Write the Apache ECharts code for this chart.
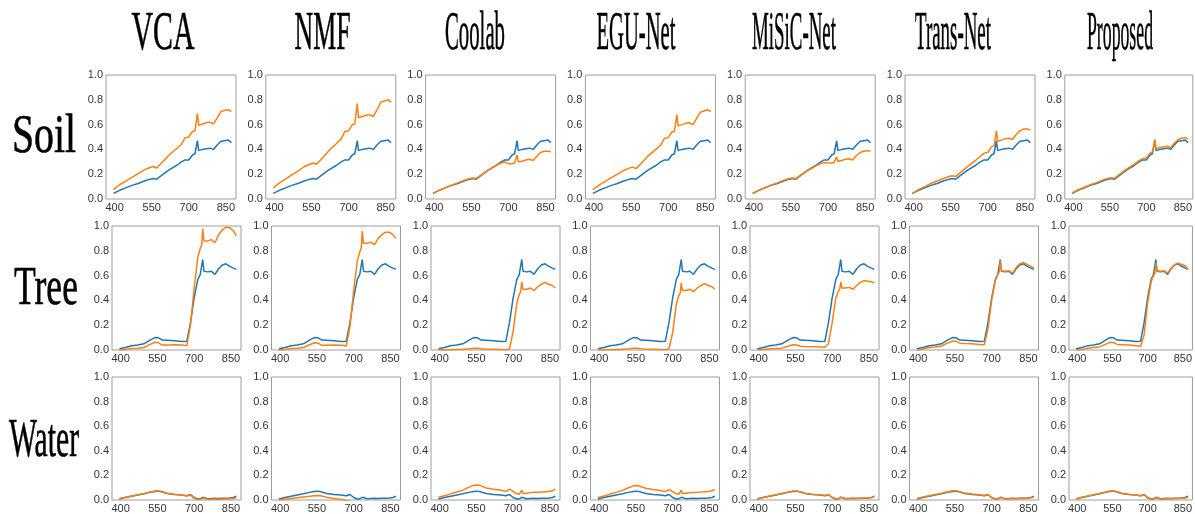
<!DOCTYPE html>
<html>
<head>
<meta charset="utf-8">
<script src="https://cdn.jsdelivr.net/npm/echarts@6/dist/echarts.min.js"></script>
<style>
html,body{margin:0;padding:0;background:#fff;}
#chart{width:1195px;height:514px;}
</style>
</head>
<body>
<div id="chart"></div>
<script>
// ---------- data ----------
const wavelengths = [395,420,445,470,495,520,540,555,570,590,620,650,670,685,700,715,725,731,735,740,755,770,785,800,815,830,845,860,872];
const methods = ['VCA','NMF','Coolab','EGU-Net','MiSiC-Net','Trans-Net','Proposed'];
const materials = ['Soil','Tree','Water'];
const xTickValues = [400,550,700,850];

const soilRef      = [0.045,0.07,0.09,0.11,0.125,0.145,0.158,0.165,0.16,0.19,0.235,0.27,0.30,0.315,0.315,0.355,0.365,0.37,0.47,0.39,0.40,0.405,0.41,0.40,0.435,0.465,0.47,0.475,0.455];
const soilVCA      = [0.075,0.115,0.145,0.175,0.205,0.235,0.252,0.262,0.25,0.29,0.355,0.405,0.44,0.495,0.50,0.545,0.55,0.555,0.69,0.595,0.605,0.615,0.62,0.605,0.655,0.705,0.715,0.72,0.705];
const soilNMF      = [0.09,0.13,0.16,0.195,0.225,0.26,0.278,0.29,0.28,0.32,0.39,0.445,0.485,0.545,0.55,0.60,0.605,0.61,0.77,0.655,0.665,0.675,0.68,0.665,0.72,0.78,0.79,0.80,0.78];
const soilCoolab   = [0.045,0.07,0.092,0.112,0.13,0.15,0.163,0.17,0.165,0.195,0.235,0.27,0.29,0.30,0.285,0.285,0.29,0.29,0.355,0.30,0.305,0.315,0.32,0.31,0.345,0.375,0.385,0.385,0.38];
const soilEGU      = [0.075,0.112,0.142,0.172,0.2,0.23,0.247,0.257,0.245,0.285,0.35,0.4,0.435,0.49,0.495,0.54,0.545,0.55,0.68,0.59,0.6,0.61,0.615,0.6,0.65,0.7,0.71,0.72,0.705];
const soilMiSiC    = [0.045,0.07,0.092,0.112,0.13,0.15,0.163,0.17,0.165,0.195,0.232,0.265,0.285,0.295,0.29,0.29,0.295,0.3,0.34,0.305,0.31,0.32,0.325,0.315,0.35,0.375,0.385,0.39,0.385];
const soilTrans    = [0.045,0.075,0.1,0.125,0.145,0.165,0.18,0.188,0.182,0.215,0.265,0.31,0.345,0.37,0.375,0.42,0.43,0.44,0.55,0.465,0.475,0.485,0.49,0.48,0.52,0.55,0.565,0.565,0.555];
const soilProposed = [0.05,0.075,0.095,0.115,0.132,0.152,0.165,0.172,0.168,0.198,0.243,0.28,0.31,0.325,0.33,0.37,0.38,0.385,0.48,0.405,0.415,0.42,0.425,0.415,0.45,0.48,0.49,0.495,0.485];

const treeRef      = [0.01,0.02,0.035,0.04,0.05,0.08,0.10,0.098,0.08,0.078,0.075,0.068,0.07,0.22,0.42,0.57,0.61,0.62,0.73,0.635,0.63,0.635,0.61,0.655,0.685,0.695,0.675,0.66,0.65];
const treeVCA      = [0.0,0.005,0.012,0.015,0.02,0.045,0.062,0.058,0.04,0.04,0.043,0.04,0.035,0.2,0.5,0.75,0.82,0.85,0.98,0.88,0.88,0.89,0.865,0.93,0.97,0.99,0.985,0.96,0.92];
const treeNMF      = [0.0,0.005,0.012,0.015,0.02,0.042,0.058,0.055,0.038,0.038,0.04,0.038,0.033,0.19,0.48,0.72,0.79,0.82,0.96,0.86,0.86,0.87,0.85,0.9,0.93,0.95,0.95,0.93,0.9];
const treeCoolab   = [0.0,0.0,0.002,0.004,0.006,0.01,0.015,0.015,0.01,0.008,0.006,0.004,0.003,0.01,0.15,0.38,0.45,0.47,0.55,0.49,0.49,0.5,0.48,0.51,0.53,0.545,0.53,0.52,0.5];
const treeEGU      = [0.0,0.0,0.002,0.004,0.006,0.01,0.014,0.014,0.01,0.008,0.006,0.004,0.003,0.01,0.14,0.37,0.44,0.46,0.54,0.48,0.48,0.49,0.47,0.5,0.52,0.535,0.52,0.51,0.49];
const treeMiSiC    = [0.0,0.005,0.01,0.012,0.015,0.03,0.042,0.04,0.03,0.028,0.027,0.025,0.022,0.05,0.22,0.42,0.47,0.49,0.55,0.5,0.5,0.505,0.49,0.52,0.545,0.56,0.555,0.55,0.54];
const treeTrans    = [0.0,0.008,0.02,0.025,0.032,0.055,0.072,0.07,0.055,0.052,0.05,0.045,0.042,0.17,0.4,0.56,0.61,0.63,0.72,0.64,0.635,0.64,0.62,0.665,0.695,0.705,0.69,0.675,0.66];
const treeProposed = [0.0,0.005,0.015,0.02,0.025,0.045,0.062,0.06,0.045,0.043,0.04,0.035,0.03,0.12,0.38,0.55,0.6,0.62,0.7,0.64,0.635,0.64,0.62,0.66,0.69,0.7,0.69,0.68,0.65];

const waterRef      = [0.008,0.02,0.03,0.04,0.05,0.062,0.07,0.072,0.065,0.053,0.045,0.04,0.035,0.045,0.02,0.008,0.01,0.012,0.022,0.01,0.01,0.012,0.014,0.012,0.014,0.015,0.017,0.02,0.03];
const waterVCA      = [0.012,0.022,0.032,0.042,0.052,0.065,0.073,0.075,0.068,0.055,0.047,0.04,0.033,0.04,0.015,0.004,0.005,0.006,0.016,0.005,0.006,0.007,0.008,0.007,0.008,0.009,0.01,0.012,0.02];
const waterNMF      = [0.0,0.006,0.012,0.018,0.024,0.03,0.035,0.036,0.032,0.022,0.012,0.004,-0.004,-0.012,-0.03,-0.04,-0.04,-0.04,-0.035,-0.04,-0.04,-0.04,-0.04,-0.04,-0.04,-0.04,-0.04,-0.04,-0.04];
const waterCoolab   = [0.022,0.035,0.05,0.065,0.08,0.105,0.12,0.122,0.115,0.098,0.088,0.08,0.07,0.088,0.07,0.05,0.046,0.05,0.08,0.052,0.055,0.06,0.062,0.063,0.066,0.068,0.07,0.075,0.09];
const waterEGU      = [0.02,0.033,0.048,0.062,0.078,0.1,0.115,0.118,0.11,0.095,0.085,0.077,0.068,0.085,0.068,0.05,0.046,0.05,0.08,0.052,0.055,0.058,0.06,0.062,0.065,0.067,0.07,0.075,0.085];
const waterMiSiC    = [0.01,0.022,0.033,0.043,0.053,0.065,0.073,0.074,0.067,0.055,0.047,0.042,0.036,0.045,0.02,0.01,0.012,0.013,0.022,0.012,0.012,0.013,0.015,0.014,0.015,0.016,0.018,0.02,0.028];
const waterTrans    = [0.012,0.024,0.035,0.045,0.055,0.067,0.075,0.076,0.068,0.056,0.048,0.042,0.036,0.044,0.018,0.008,0.009,0.01,0.02,0.009,0.009,0.01,0.012,0.011,0.012,0.013,0.015,0.018,0.025];
const waterProposed = [0.01,0.022,0.033,0.043,0.053,0.065,0.073,0.075,0.068,0.055,0.046,0.04,0.034,0.043,0.016,0.006,0.008,0.009,0.018,0.007,0.008,0.009,0.011,0.01,0.011,0.012,0.014,0.016,0.022];

// ---------- assembly ----------
const references = [soilRef, treeRef, waterRef];
const estimates = [
  [soilVCA, soilNMF, soilCoolab, soilEGU, soilMiSiC, soilTrans, soilProposed],
  [treeVCA, treeNMF, treeCoolab, treeEGU, treeMiSiC, treeTrans, treeProposed],
  [waterVCA, waterNMF, waterCoolab, waterEGU, waterMiSiC, waterTrans, waterProposed]
];

const rowTop = [75, 226, 377];
const rowLeft = [106, 112, 112];
const colStep = [159.8, 159.5, 159.5];
const boxW = [130, 129, 129];
const boxH = 124;

const titleFont = '55px "Liberation Serif"';
const titleWidths = [63, 56, 60, 79, 84, 76, 66];
const titleCenters = [163, 322.5, 475, 636, 794, 953, 1120];
const rowLabelWidths = [64, 64, 70];
const rowLabelCenters = [[44, 138], [46, 290], [44, 442]];

const measureCanvas = document.createElement('canvas').getContext('2d');
function widthOf(text, font) { measureCanvas.font = font; return measureCanvas.measureText(text).width; }

const grids = [], xAxes = [], yAxes = [], series = [], graphics = [];
const labelStyle = { fontFamily: '"Liberation Sans", Arial, sans-serif', fontSize: 11, color: '#333' };

for (let r = 0; r < 3; r++) {
  for (let c = 0; c < 7; c++) {
    const idx = r * 7 + c;
    grids.push({
      left: rowLeft[r] + colStep[r] * c, top: rowTop[r], width: boxW[r], height: boxH,
      show: true, borderColor: '#9d9d9d', borderWidth: 1, backgroundColor: 'transparent', containLabel: false
    });
    xAxes.push({
      type: 'value', gridIndex: idx, min: 365, max: 891,
      axisLine: { show: false }, axisTick: { show: false }, splitLine: { show: false },
      axisLabel: Object.assign({ customValues: xTickValues, margin: 3 }, labelStyle)
    });
    yAxes.push({
      type: 'value', gridIndex: idx, min: 0, max: 1, interval: 0.2,
      axisLine: { show: false }, axisTick: { show: false }, splitLine: { show: false },
      axisLabel: Object.assign({ margin: 3, formatter: v => v.toFixed(1) }, labelStyle)
    });
    series.push({
      type: 'line', xAxisIndex: idx, yAxisIndex: idx, symbol: 'none', clip: true,
      lineStyle: { color: '#1f77b4', width: 1.5 }, itemStyle: { color: '#1f77b4' },
      data: wavelengths.map((w, i) => [w, references[r][i]]), z: 2
    });
    series.push({
      type: 'line', xAxisIndex: idx, yAxisIndex: idx, symbol: 'none', clip: true,
      lineStyle: { color: '#ff7f0e', width: 1.5 }, itemStyle: { color: '#ff7f0e' },
      data: wavelengths.map((w, i) => [w, estimates[r][c][i]]), z: 3
    });
  }
}

methods.forEach((m, c) => {
  graphics.push({
    type: 'text', x: titleCenters[c], y: 35, scaleX: titleWidths[c] / widthOf(m, titleFont),
    style: { text: m, font: titleFont, fill: '#000', stroke: '#000', lineWidth: 0.6, textAlign: 'center', textVerticalAlign: 'middle' }
  });
});
materials.forEach((m, r) => {
  graphics.push({
    type: 'text', x: rowLabelCenters[r][0], y: rowLabelCenters[r][1], scaleX: rowLabelWidths[r] / widthOf(m, titleFont),
    style: { text: m, font: titleFont, fill: '#000', stroke: '#000', lineWidth: 0.6, textAlign: 'center', textVerticalAlign: 'middle' }
  });
});

const chart = echarts.init(document.getElementById('chart'), null, { renderer: 'canvas' });
chart.setOption({
  animation: false,
  backgroundColor: '#fff',
  grid: grids, xAxis: xAxes, yAxis: yAxes, series: series,
  graphic: graphics
});
</script>
</body>
</html>
